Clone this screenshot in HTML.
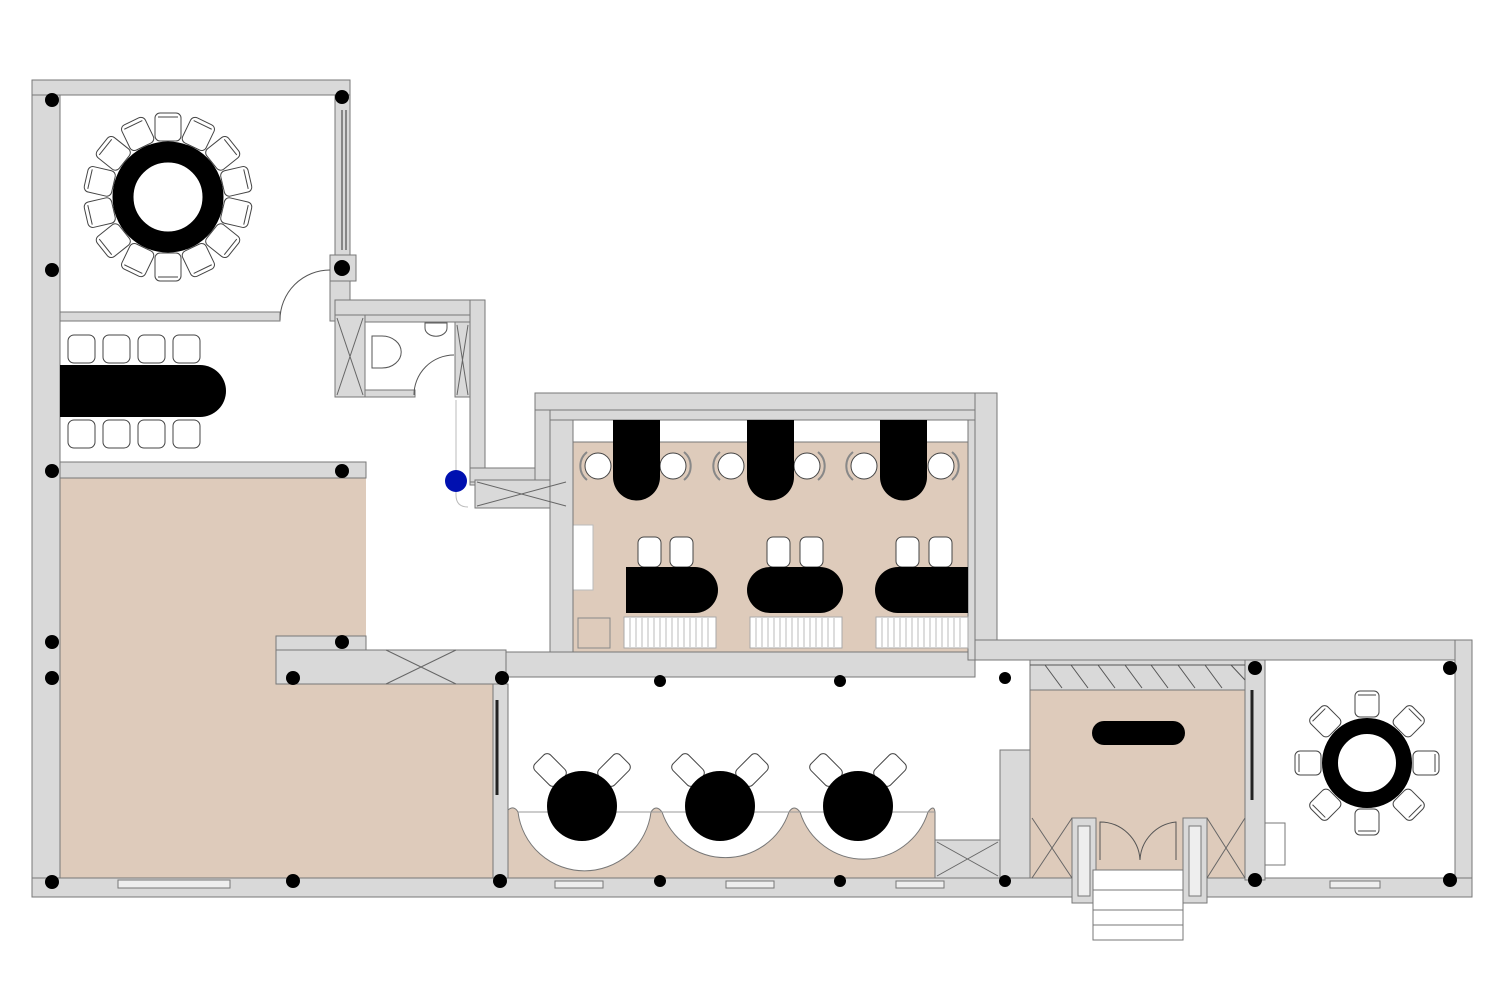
<!DOCTYPE html>
<html><head><meta charset="utf-8"><style>html,body{margin:0;padding:0;background:#fff}svg{display:block}</style></head>
<body>
<svg width="1500" height="1000" viewBox="0 0 1500 1000" xmlns="http://www.w3.org/2000/svg">
<g stroke="#777" stroke-width="1">
<rect x="60" y="478" width="306" height="400" fill="#decbbb" stroke="none"/>
<rect x="60" y="684" width="434" height="194" fill="#decbbb" stroke="none"/>
<rect x="573" y="420" width="395" height="232" fill="#decbbb"/>
<rect x="573" y="420" width="395" height="22" fill="#fff"/>
<rect x="573" y="525" width="20" height="65" fill="#fff" stroke="#bbb"/>
<rect x="1030" y="690" width="215" height="190" fill="#decbbb"/>
<g fill="#d9d9d9">
<rect x="32" y="80" width="28" height="817"/>
<rect x="32" y="80" width="318" height="15"/>
<rect x="335" y="95" width="15" height="205"/>
<rect x="330" y="255" width="26" height="26"/>
<rect x="330" y="281" width="20" height="40"/>
<rect x="335" y="300" width="150" height="15"/>
<rect x="470" y="300" width="15" height="185"/>
<rect x="470" y="468" width="80" height="14"/>
<rect x="535" y="393" width="15" height="92"/>
<rect x="535" y="393" width="462" height="17"/>
<rect x="550" y="410" width="425" height="10"/>
<rect x="975" y="393" width="22" height="267"/>
<rect x="975" y="640" width="497" height="20"/>
<rect x="1455" y="640" width="17" height="257"/>
<rect x="32" y="878" width="1440" height="19"/>
<rect x="60" y="462" width="306" height="16"/>
<rect x="60" y="312" width="220" height="9"/>
<rect x="335" y="315" width="30" height="82"/>
<rect x="365" y="315" width="105" height="7"/>
<rect x="455" y="322" width="15" height="75"/>
<rect x="365" y="390" width="50" height="7"/>
<rect x="475" y="480" width="93" height="28"/>
<rect x="550" y="420" width="23" height="232"/>
<rect x="276" y="636" width="90" height="27"/>
<rect x="276" y="650" width="230" height="34"/>
<rect x="493" y="684" width="15" height="194"/>
<rect x="506" y="652" width="469" height="25"/>
<rect x="968" y="420" width="7" height="240"/>
<rect x="1000" y="750" width="30" height="128"/>
<rect x="935" y="840" width="65" height="38"/>
<rect x="1030" y="660" width="215" height="30"/>
<rect x="1245" y="660" width="20" height="220"/>
<rect x="1265" y="823" width="20" height="42" fill="#fff"/>
<rect x="1072" y="818" width="24" height="85"/>
<rect x="1183" y="818" width="24" height="85"/>
</g>
<path d="M337,318 L363,395 M363,318 L337,395 M457,325 L468,395 M468,325 L457,395 M477,482 L566,506 M566,482 L477,506 M386,650 L456,684 M456,650 L386,684 M937,842 L998,876 M998,842 L937,876 M1032,818 L1072,878 M1072,818 L1032,878 M1207,818 L1245,878 M1245,818 L1207,878" fill="none" stroke="#666"/>
<rect x="1078" y="826" width="12" height="70" fill="#eee"/><rect x="1189" y="826" width="12" height="70" fill="#eee"/>
<path d="M1030,665 L1245,665 M1045,665 L1062,688 M1071,665 L1088,688 M1098,665 L1115,688 M1125,665 L1142,688 M1151,665 L1168,688 M1178,665 L1195,688 M1205,665 L1222,688 M1231,665 L1245,680" stroke="#555" fill="none"/>
<rect x="1093" y="870" width="90" height="70" fill="#fff"/>
<path d="M1093,890 H1183 M1093,910 H1183 M1093,925 H1183" stroke="#777"/>
<path d="M280,320 A50,50 0 0 1 330,270" fill="none" stroke="#555"/>
<path d="M414,395 A40,40 0 0 1 454,355" fill="none" stroke="#555"/>
<path d="M1100,860 V822 A40,40 0 0 1 1140,860 A40,40 0 0 1 1176,822 V860" fill="none" stroke="#555"/>
<path d="M456,400 V495 Q456,507 468,507" fill="none" stroke="#bbb"/>
<path d="M342,110 V250 M346,110 V250" stroke="#333"/>
<path d="M497,700 V795" stroke="#222" stroke-width="3"/>
<path d="M1252,690 V800" stroke="#222" stroke-width="3"/>
<g fill="#eee"><rect x="118" y="880" width="112" height="8"/><rect x="555" y="881" width="48" height="7"/><rect x="726" y="881" width="48" height="7"/><rect x="896" y="881" width="48" height="7"/><rect x="1330" y="881" width="50" height="7"/></g>
<path d="M372,336 h10 a12,10 0 0 1 0,32 h-10 z" fill="#fff" stroke="#555"/>
<path d="M425,323 h22 v5 a8,6 0 0 1 -22,0 z" fill="#fff" stroke="#555"/>
</g>
<g fill="#fff" stroke="#444" stroke-width="1">
<g transform="translate(168,197)">
<g transform="rotate(0)"><rect x="-13" y="-84" width="26" height="28" rx="5"/><path d="M-10,-80 H10" fill="none"/></g>
<g transform="rotate(25.7)"><rect x="-13" y="-84" width="26" height="28" rx="5"/><path d="M-10,-80 H10" fill="none"/></g>
<g transform="rotate(51.4)"><rect x="-13" y="-84" width="26" height="28" rx="5"/><path d="M-10,-80 H10" fill="none"/></g>
<g transform="rotate(77.1)"><rect x="-13" y="-84" width="26" height="28" rx="5"/><path d="M-10,-80 H10" fill="none"/></g>
<g transform="rotate(102.9)"><rect x="-13" y="-84" width="26" height="28" rx="5"/><path d="M-10,-80 H10" fill="none"/></g>
<g transform="rotate(128.6)"><rect x="-13" y="-84" width="26" height="28" rx="5"/><path d="M-10,-80 H10" fill="none"/></g>
<g transform="rotate(154.3)"><rect x="-13" y="-84" width="26" height="28" rx="5"/><path d="M-10,-80 H10" fill="none"/></g>
<g transform="rotate(180)"><rect x="-13" y="-84" width="26" height="28" rx="5"/><path d="M-10,-80 H10" fill="none"/></g>
<g transform="rotate(205.7)"><rect x="-13" y="-84" width="26" height="28" rx="5"/><path d="M-10,-80 H10" fill="none"/></g>
<g transform="rotate(231.4)"><rect x="-13" y="-84" width="26" height="28" rx="5"/><path d="M-10,-80 H10" fill="none"/></g>
<g transform="rotate(257.1)"><rect x="-13" y="-84" width="26" height="28" rx="5"/><path d="M-10,-80 H10" fill="none"/></g>
<g transform="rotate(282.9)"><rect x="-13" y="-84" width="26" height="28" rx="5"/><path d="M-10,-80 H10" fill="none"/></g>
<g transform="rotate(308.6)"><rect x="-13" y="-84" width="26" height="28" rx="5"/><path d="M-10,-80 H10" fill="none"/></g>
<g transform="rotate(334.3)"><rect x="-13" y="-84" width="26" height="28" rx="5"/><path d="M-10,-80 H10" fill="none"/></g>
</g>
<g transform="translate(1367,763)">
<g transform="rotate(0)"><rect x="-12" y="-72" width="24" height="26" rx="5"/><path d="M-9,-68 H9" fill="none"/></g>
<g transform="rotate(45)"><rect x="-12" y="-72" width="24" height="26" rx="5"/><path d="M-9,-68 H9" fill="none"/></g>
<g transform="rotate(90)"><rect x="-12" y="-72" width="24" height="26" rx="5"/><path d="M-9,-68 H9" fill="none"/></g>
<g transform="rotate(135)"><rect x="-12" y="-72" width="24" height="26" rx="5"/><path d="M-9,-68 H9" fill="none"/></g>
<g transform="rotate(180)"><rect x="-12" y="-72" width="24" height="26" rx="5"/><path d="M-9,-68 H9" fill="none"/></g>
<g transform="rotate(225)"><rect x="-12" y="-72" width="24" height="26" rx="5"/><path d="M-9,-68 H9" fill="none"/></g>
<g transform="rotate(270)"><rect x="-12" y="-72" width="24" height="26" rx="5"/><path d="M-9,-68 H9" fill="none"/></g>
<g transform="rotate(315)"><rect x="-12" y="-72" width="24" height="26" rx="5"/><path d="M-9,-68 H9" fill="none"/></g>
</g>
<rect x="68" y="335" width="27" height="28" rx="6"/><rect x="103" y="335" width="27" height="28" rx="6"/><rect x="138" y="335" width="27" height="28" rx="6"/><rect x="173" y="335" width="27" height="28" rx="6"/>
<rect x="68" y="420" width="27" height="28" rx="6"/><rect x="103" y="420" width="27" height="28" rx="6"/><rect x="138" y="420" width="27" height="28" rx="6"/><rect x="173" y="420" width="27" height="28" rx="6"/>
<circle cx="598" cy="466" r="13"/><circle cx="673" cy="466" r="13"/><circle cx="731" cy="466" r="13"/><circle cx="807" cy="466" r="13"/><circle cx="864" cy="466" r="13"/><circle cx="941" cy="466" r="13"/>
<path d="M587,452 A18,18 0 0 0 587,480 M684,452 A18,18 0 0 1 684,480 M720,452 A18,18 0 0 0 720,480 M818,452 A18,18 0 0 1 818,480 M853,452 A18,18 0 0 0 853,480 M952,452 A18,18 0 0 1 952,480" fill="none" stroke="#888" stroke-width="2"/>
<rect x="638" y="537" width="23" height="30" rx="6"/><rect x="670" y="537" width="23" height="30" rx="6"/>
<rect x="767" y="537" width="23" height="30" rx="6"/><rect x="800" y="537" width="23" height="30" rx="6"/>
<rect x="896" y="537" width="23" height="30" rx="6"/><rect x="929" y="537" width="23" height="30" rx="6"/>
<g transform="translate(550,770) rotate(-45)"><rect x="-11" y="-15" width="22" height="30" rx="5"/></g>
<g transform="translate(614,770) rotate(45)"><rect x="-11" y="-15" width="22" height="30" rx="5"/></g>
<g transform="translate(688,770) rotate(-45)"><rect x="-11" y="-15" width="22" height="30" rx="5"/></g>
<g transform="translate(752,770) rotate(45)"><rect x="-11" y="-15" width="22" height="30" rx="5"/></g>
<g transform="translate(826,770) rotate(-45)"><rect x="-11" y="-15" width="22" height="30" rx="5"/></g>
<g transform="translate(890,770) rotate(45)"><rect x="-11" y="-15" width="22" height="30" rx="5"/></g>
</g>
<circle cx="168" cy="197" r="45" fill="none" stroke="#000" stroke-width="21"/>
<circle cx="1367" cy="763" r="37" fill="none" stroke="#000" stroke-width="16"/>
<path d="M60,365 H200 A26,26 0 0 1 200,417 H60 Z" fill="#000"/>
<path d="M613,420 H660 V477 A23.5,23.5 0 0 1 613,477 Z" fill="#000"/>
<path d="M747,420 H794 V477 A23.5,23.5 0 0 1 747,477 Z" fill="#000"/>
<path d="M880,420 H927 V477 A23.5,23.5 0 0 1 880,477 Z" fill="#000"/>
<path d="M626,567 H695 A23,23 0 0 1 695,613 H626 Z" fill="#000"/>
<rect x="747" y="567" width="96" height="46" rx="23" fill="#000"/>
<path d="M968,567 H898 A23,23 0 0 0 898,613 H968 Z" fill="#000"/>
<g fill="#fff" stroke="#aaa">
<rect x="624" y="617" width="92" height="31"/><rect x="750" y="617" width="92" height="31"/><rect x="876" y="617" width="92" height="31"/>
</g>
<path d="M630,618V647M636,618V647M642,618V647M648,618V647M654,618V647M660,618V647M666,618V647M672,618V647M678,618V647M684,618V647M690,618V647M696,618V647M702,618V647M708,618V647M756,618V647M762,618V647M768,618V647M774,618V647M780,618V647M786,618V647M792,618V647M798,618V647M804,618V647M810,618V647M816,618V647M822,618V647M828,618V647M834,618V647M882,618V647M888,618V647M894,618V647M900,618V647M906,618V647M912,618V647M918,618V647M924,618V647M930,618V647M936,618V647M942,618V647M948,618V647M954,618V647M960,618V647" stroke="#bbb"/>
<rect x="578" y="618" width="32" height="30" fill="none" stroke="#888"/>
<path d="M508,878 V810 Q514,805 518,812 A67,67 0 0 0 651,812 Q656,804 662,812 A67,67 0 0 0 789,812 Q794,804 800,812 A67,67 0 0 0 928,812 Q934,804 935,812 V878 Z" fill="#decbbb" stroke="#777"/>
<path d="M518,812 H935" stroke="#999"/>
<circle cx="582" cy="806" r="35" fill="#000"/><circle cx="720" cy="806" r="35" fill="#000"/><circle cx="858" cy="806" r="35" fill="#000"/>
<rect x="1092" y="721" width="93" height="24" rx="12" fill="#000"/>
<g fill="#000">
<circle cx="52" cy="100" r="7"/><circle cx="342" cy="97" r="7"/><circle cx="52" cy="270" r="7"/><circle cx="342" cy="268" r="8"/>
<circle cx="52" cy="471" r="7"/><circle cx="342" cy="471" r="7"/><circle cx="52" cy="642" r="7"/><circle cx="52" cy="678" r="7"/>
<circle cx="342" cy="642" r="7"/><circle cx="293" cy="678" r="7"/><circle cx="52" cy="882" r="7"/><circle cx="293" cy="881" r="7"/>
<circle cx="502" cy="678" r="7"/><circle cx="500" cy="881" r="7"/><circle cx="660" cy="681" r="6"/><circle cx="840" cy="681" r="6"/>
<circle cx="660" cy="881" r="6"/><circle cx="840" cy="881" r="6"/><circle cx="1005" cy="678" r="6"/><circle cx="1005" cy="881" r="6"/>
<circle cx="1255" cy="668" r="7"/><circle cx="1255" cy="880" r="7"/><circle cx="1450" cy="668" r="7"/><circle cx="1450" cy="880" r="7"/>
</g>
<circle cx="456" cy="481" r="11" fill="#0010b0"/>
</svg>
</body></html>
